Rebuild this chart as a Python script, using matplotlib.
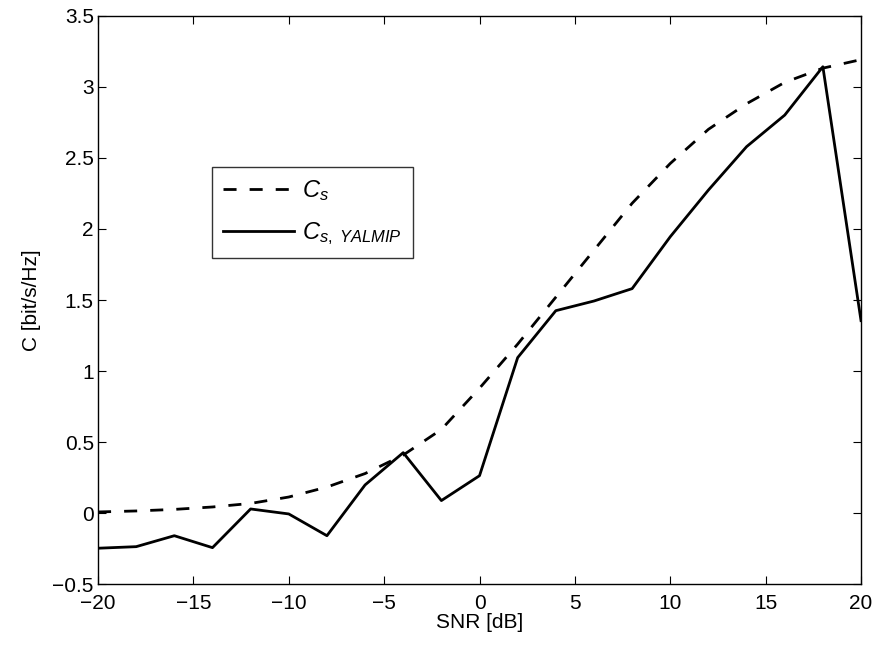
import matplotlib
matplotlib.use('Agg')
import matplotlib.pyplot as plt

snr_db = [-20, -18, -16, -14, -12, -10, -8, -6, -4, -2, 0, 2, 4, 6, 8, 10, 12, 14, 16, 18, 20]
cs = [0.01, 0.017, 0.028, 0.045, 0.07, 0.115, 0.185, 0.28, 0.41, 0.59, 0.88,
      1.19, 1.52, 1.85, 2.18, 2.46, 2.70, 2.88, 3.03, 3.13, 3.19]
cs_yalmip = [-0.245, -0.234, -0.157, -0.241, 0.031, -0.004, -0.157, 0.20, 0.427, 0.09, 0.265,
             1.095, 1.425, 1.493, 1.58, 1.945, 2.273, 2.578, 2.80, 3.14, 1.355]
x_ticks = [-20, -15, -10, -5, 0, 5, 10, 15, 20]
y_ticks = [-0.5, 0, 0.5, 1, 1.5, 2, 2.5, 3, 3.5]


def main():
    plt.rcParams['font.family'] = ['Liberation Sans', 'DejaVu Sans']
    plt.rcParams['mathtext.fontset'] = 'custom'
    plt.rcParams['mathtext.rm'] = 'Liberation Sans'
    plt.rcParams['mathtext.it'] = 'Liberation Sans:italic'

    fig = plt.figure(figsize=(8.76, 6.47), dpi=100)
    ax = fig.add_axes([0.1119, 0.0966, 0.8710, 0.8794])

    ax.plot(snr_db, cs, color='black', linewidth=2, linestyle='--', dashes=(4.7, 4.7), label=r'$C_s$')
    ax.plot(snr_db, cs_yalmip, color='black', linewidth=2, label=r'$C_{s,\ YALMIP}$')

    ax.set_xlim(-20, 20)
    ax.set_ylim(-0.5, 3.5)
    ax.set_xticks(x_ticks)
    ax.set_yticks(y_ticks)
    ax.set_yticklabels(['\u22120.5', '0', '0.5', '1', '1.5', '2', '2.5', '3', '3.5'])
    ax.tick_params(direction='in', top=True, right=True, length=6, width=0.8, labelsize=15)
    ax.tick_params(axis='x', pad=7)
    ax.tick_params(axis='y', pad=3)
    for s in ax.spines.values():
        s.set_linewidth(1.0)

    ax.set_xlabel('SNR [dB]', fontsize=15, labelpad=0)
    ax.set_ylabel('C [bit/s/Hz]', fontsize=15, labelpad=8)

    leg = ax.legend(loc='upper left', bbox_to_anchor=(0.150, 0.733), fontsize=17,
                    frameon=True, fancybox=False, edgecolor='black', handlelength=3.0,
                    borderpad=0.45, labelspacing=0.75, handletextpad=0.35, borderaxespad=0)
    leg.get_frame().set_linewidth(1.0)

    fig.savefig('out.png', dpi=100)


if __name__ == '__main__':
    main()
